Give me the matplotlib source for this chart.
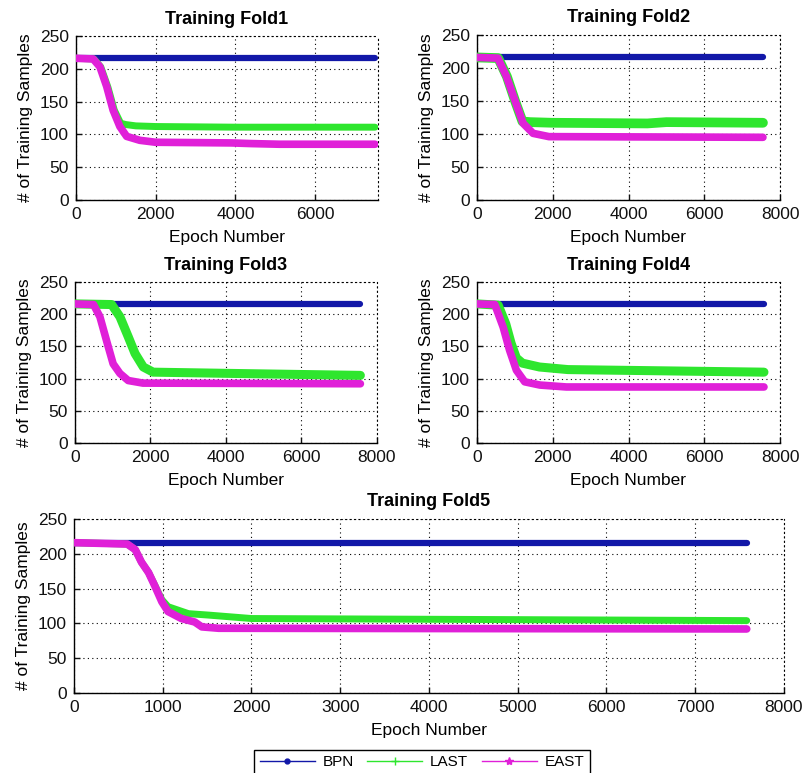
import matplotlib
matplotlib.use("Agg")
import matplotlib.pyplot as plt
from matplotlib.lines import Line2D

plt.rcParams['font.family'] = ['Liberation Sans', 'DejaVu Sans']

# ---- data (epoch, # of training samples) ----
fold1_end = 7500
fold1_east_x = [0, 430, 600, 770, 930, 1100, 1270, 1600, 2000, 3900, 4400, 5100, 7500]
fold1_east_y = [216, 215, 203, 173, 137, 112, 97, 91, 88, 87, 86, 85, 85]
fold1_last_x = [0, 450, 620, 800, 960, 1120, 1250, 1500, 2000, 4000, 7500]
fold1_last_y = [216, 215, 203, 172, 137, 117, 115, 113, 112, 111, 111]

fold2_end = 7550
fold2_east_x = [0, 550, 780, 1000, 1220, 1480, 1900, 7550]
fold2_east_y = [216, 215, 187, 151, 116, 101, 96, 95]
fold2_last_x = [0, 560, 790, 1000, 1200, 1400, 2000, 4500, 5000, 7550]
fold2_last_y = [216, 215, 187, 151, 119, 118, 117, 116, 118, 117]

fold3_end = 7560
fold3_east_x = [0, 490, 660, 840, 1010, 1190, 1410, 1800, 7560]
fold3_east_y = [216, 215, 196, 158, 123, 108, 97, 93, 92]
fold3_last_x = [0, 970, 1190, 1410, 1590, 1810, 2070, 4200, 7560]
fold3_last_y = [216, 215, 196, 165, 139, 118, 110, 108, 105]

fold4_end = 7577
fold4_east_x = [0, 470, 690, 860, 1040, 1260, 1660, 2360, 7577]
fold4_east_y = [216, 215, 180, 144, 113, 95, 90, 87, 87]
fold4_last_x = [0, 560, 760, 900, 1040, 1200, 1650, 2400, 7577]
fold4_last_y = [216, 214, 185, 155, 132, 124, 118, 114, 110]

fold5_end = 7580
fold5_east_x = [0, 600, 690, 760, 840, 910, 990, 1060, 1210, 1360, 1440, 1630, 7580]
fold5_east_y = [216, 214, 206, 188, 173, 154, 131, 117, 107, 102, 95, 93, 92]
fold5_last_x = [0, 600, 690, 760, 840, 910, 990, 1060, 1290, 1510, 2000, 7580]
fold5_last_y = [216, 214, 206, 188, 173, 155, 134, 124, 114, 112, 107, 104]

bpn_value = 216

titles = ["Training Fold1", "Training Fold2", "Training Fold3", "Training Fold4", "Training Fold5"]
legend_labels = ["BPN", "LAST", "EAST"]

c_bpn = '#1218a8'
c_last = '#2ee62e'
c_east = '#e020d8'

W, H = 803, 773


def rect(l, t, r, b):
    return [l / W, 1 - b / H, (r - l) / W, (b - t) / H]


fig = plt.figure(figsize=(W / 100, H / 100), dpi=100)

panels = [
    (rect(76, 36, 378, 200), fold1_end, fold1_last_x, fold1_last_y, fold1_east_x, fold1_east_y, 7575,
     [0, 2000, 4000, 6000], 5),
    (rect(477, 35, 780, 200), fold2_end, fold2_last_x, fold2_last_y, fold2_east_x, fold2_east_y, 8000,
     [0, 2000, 4000, 6000, 8000], 7),
    (rect(75, 282, 377, 443), fold3_end, fold3_last_x, fold3_last_y, fold3_east_x, fold3_east_y, 8000,
     [0, 2000, 4000, 6000, 8000], 6.5),
    (rect(477, 282, 780, 443), fold4_end, fold4_last_x, fold4_last_y, fold4_east_x, fold4_east_y, 8000,
     [0, 2000, 4000, 6000, 8000], 6.5),
    (rect(74, 519, 784, 693), fold5_end, fold5_last_x, fold5_last_y, fold5_east_x, fold5_east_y, 8000,
     list(range(0, 8001, 1000)), 5),
]

for i, (r, end, lx, ly, ex, ey, xmax, xt, lw_last) in enumerate(panels):
    ax = fig.add_axes(r)
    ax.plot([0, end], [bpn_value, bpn_value], color=c_bpn, lw=4.5, solid_capstyle='round', zorder=3)
    ax.plot(lx, ly, color=c_last, lw=lw_last, solid_capstyle='round', solid_joinstyle='round', zorder=4)
    ax.plot(ex, ey, color=c_east, lw=5.5, solid_capstyle='round', solid_joinstyle='round', zorder=5)
    ax.set_xlim(0, xmax)
    ax.set_ylim(0, 250)
    ax.set_xticks(xt)
    ax.set_yticks([0, 50, 100, 150, 200, 250])
    ax.grid(True, color='black', linestyle=(0, (1, 3)), lw=0.8)
    ax.set_axisbelow(True)
    for s in ['top', 'right']:
        ax.spines[s].set_linestyle((0, (1, 3)))
        ax.spines[s].set_linewidth(0.8)
    for s in ['left', 'bottom']:
        ax.spines[s].set_linewidth(1.0)
    ax.tick_params(direction='in', length=4, width=1, labelsize=12.5, pad=5,
                   top=False, right=False, colors='#111111')
    ax.set_title(titles[i], fontsize=13, fontweight='bold', pad=9)
    ax.set_xlabel("Epoch Number", fontsize=12.5, labelpad=6)
    ax.set_ylabel("# of Training Samples", fontsize=12.5, labelpad=5)

handles = [
    Line2D([], [], color=c_bpn, lw=1, marker='.', markersize=7),
    Line2D([], [], color=c_last, lw=1, marker='+', markersize=6),
    Line2D([], [], color=c_east, lw=1, marker='*', markersize=6),
]
fig.legend(handles, legend_labels, loc='upper center', bbox_to_anchor=(422 / W, 1 - 742 / H),
           ncol=3, fontsize=11, frameon=True, fancybox=False, edgecolor='black',
           handlelength=3.6, handletextpad=0.5, columnspacing=0.9, borderpad=0.35,
           framealpha=1)

fig.savefig("out.png", dpi=100)
